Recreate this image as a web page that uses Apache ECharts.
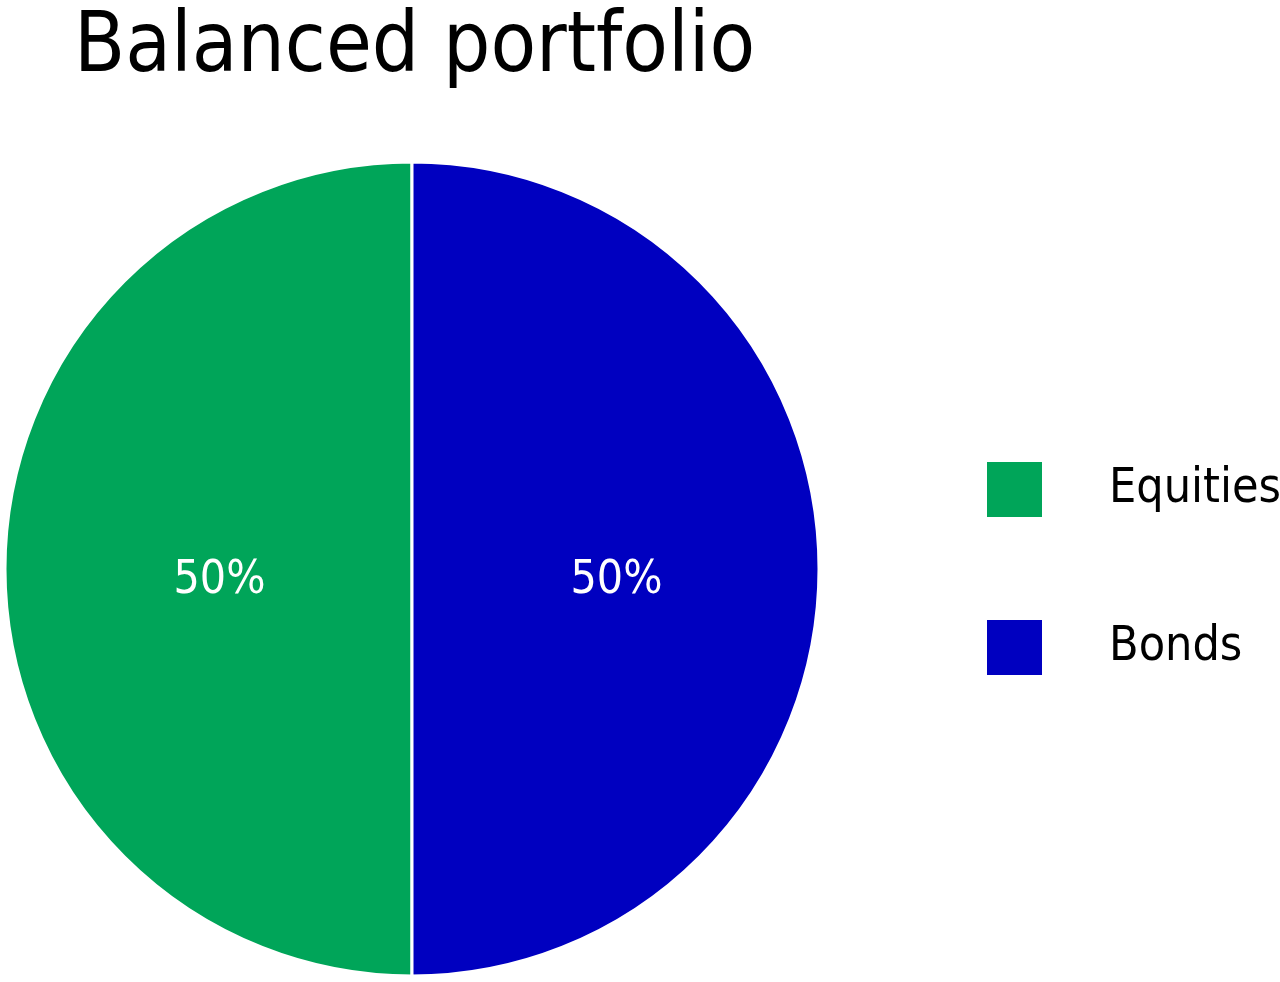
<!DOCTYPE html>
<html><head><meta charset="utf-8">
<script src="https://cdn.jsdelivr.net/npm/echarts@6/dist/echarts.min.js"></script>
<style>html,body{margin:0;padding:0;background:#fff}#c{width:1280px;height:982px}</style>
</head><body><div id="c"></div>
<script>
const titleText = 'Balanced portfolio';
const categories = ['Equities', 'Bonds'];
const values = [50, 50];
const colors = ['#00a559', '#0000c0'];
const FONT = '"DejaVu Sans Condensed", "Liberation Sans Narrow", sans-serif';

const chart = echarts.init(document.getElementById('c'));
chart.setOption({
  backgroundColor: '#fff',
  animation: false,
  title: {
    text: titleText, left: 74, top: 8, padding: 0,
    textStyle: {fontFamily: FONT, fontSize: 83, fontWeight: 'normal', color: '#000'}
  },
  legend: {
    orient: 'vertical', left: 985, top: 460, padding: 0,
    itemWidth: 57, itemHeight: 57, itemGap: 99,
    icon: 'rect',
    data: categories,
    textStyle: {fontFamily: FONT, fontSize: 48, color: '#000', padding: [0,0,0,61], lineHeight: 57}
  },
  series: [{
    type: 'pie',
    center: [412, 569],
    radius: 407,
    clockwise: false,
    startAngle: 90,
    silent: true,
    data: categories.map((c, i) => ({
      name: c, value: values[i], itemStyle: {color: colors[i]},
      label: {offset: [i === 0 ? 14 : -2, 12]}
    })),
    itemStyle: {borderColor: '#fff', borderWidth: 3},
    label: {
      position: 'inside', formatter: '{d}%',
      fontFamily: FONT, fontSize: 46, color: '#fff'
    },
    labelLine: {show: false}
  }]
});
</script></body></html>
